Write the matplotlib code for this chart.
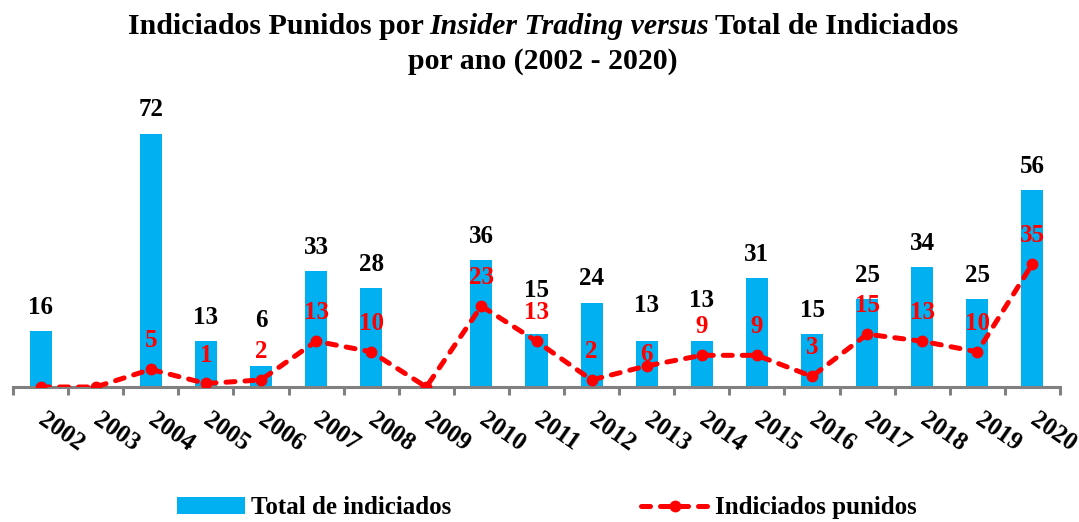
import matplotlib.pyplot as plt
import numpy as np

plt.rcParams['font.family'] = ['Liberation Serif', 'DejaVu Serif']
plt.rcParams['font.weight'] = 'bold'

years = [str(y) for y in range(2002, 2021)]
total_indiciados = [16, 0, 72, 13, 6, 33, 28, 0, 36, 15, 24, 13, 13, 31, 15, 25, 34, 25, 56]
indiciados_punidos = [0, 0, 5, 1, 2, 13, 10, 0, 23, 13, 2, 6, 9, 9, 3, 15, 13, 10, 35]

# label offsets (points above the mark), a few were nudged in the original
bar_lbl_off = {'2006': 33, '2011': 31.5, '2013': 26, '2014': 29.5}
line_lbl_off = {'2013': 8.5}

BLUE = '#00B0F0'
RED = '#FF0000'
GRAY = '#808080'

fig = plt.figure(figsize=(10.79, 5.22), dpi=100)
ax = fig.add_axes([13 / 1079, (522 - 387) / 522, (1060 - 13) / 1079, 80 * 3.52 / 522])

x = np.arange(len(years))
bar_h = ax.bar(x, total_indiciados, width=0.4, color=BLUE, label='Total de indiciados', zorder=2)
line_h, = ax.plot(x, indiciados_punidos, color=RED, lw=3.6, ls='--', dashes=(1.8, 2.0),
                  dash_capstyle='round', marker='o', ms=7.5,
                  label='Indiciados punidos', zorder=3)

# value labels (zeros are left unlabelled)
for yr, xi, v in zip(years, x, total_indiciados):
    if v:
        ax.annotate(str(v), (xi, v), xytext=(0, bar_lbl_off.get(yr, 17)),
                    textcoords='offset points', ha='center', va='center',
                    fontsize=18, fontweight='bold', color='black')
for yr, xi, v in zip(years, x, indiciados_punidos):
    if v:
        ax.annotate(str(v), (xi, v), xytext=(0, line_lbl_off.get(yr, 20.5)),
                    textcoords='offset points', ha='center', va='center',
                    fontsize=18, fontweight='bold', color=RED, zorder=4)

ax.set_xlim(-0.5, len(years) - 0.5)
ax.set_ylim(0, 80)
ax.yaxis.set_visible(False)
for s in ['top', 'right', 'left']:
    ax.spines[s].set_visible(False)
ax.spines['bottom'].set_color(GRAY)
ax.spines['bottom'].set_linewidth(2.2)

ax.set_xticks(x)
ax.set_xticks(np.arange(-0.5, len(years)), minor=True)
ax.set_xticklabels(years)
ax.tick_params(axis='x', which='major', length=0, pad=22, labelsize=18)
ax.tick_params(axis='x', which='minor', length=5.5, width=2.2, color=GRAY, direction='out')
for lab in ax.get_xticklabels():
    lab.set_rotation(-35)
    lab.set_ha('left')
    lab.set_va('center')
    lab.set_rotation_mode('anchor')
    lab.set_fontweight('bold')

fig.legend([bar_h, line_h], ['Total de indiciados', 'Indiciados punidos'],
           loc='center', bbox_to_anchor=(0.507, 0.027), ncol=2, frameon=False,
           fontsize=18, handlelength=2.7, handleheight=0.65, handletextpad=0.25,
           columnspacing=7.6)

# title with italic part
fig.canvas.draw()
renderer = fig.canvas.get_renderer()
pieces = [('Indiciados Punidos por', 'normal'),
          ('Insider Trading versus', 'italic'),
          ('Total de Indiciados', 'normal')]
objs = [fig.text(0, 1 - 34 / 522, t, fontsize=21.5, fontweight='bold', style=st, va='baseline')
        for t, st in pieces]
gap = 6
widths = [o.get_window_extent(renderer).width for o in objs]
total_w = sum(widths) + gap * (len(objs) - 1)
start = 543 - total_w / 2
for o, w in zip(objs, widths):
    o.set_x(start / 1079)
    start += w + gap
fig.text(543 / 1079, 1 - 69 / 522, 'por ano (2002 - 2020)', fontsize=21.5, fontweight='bold',
         ha='center', va='baseline')

fig.savefig('out.png', dpi=100)
